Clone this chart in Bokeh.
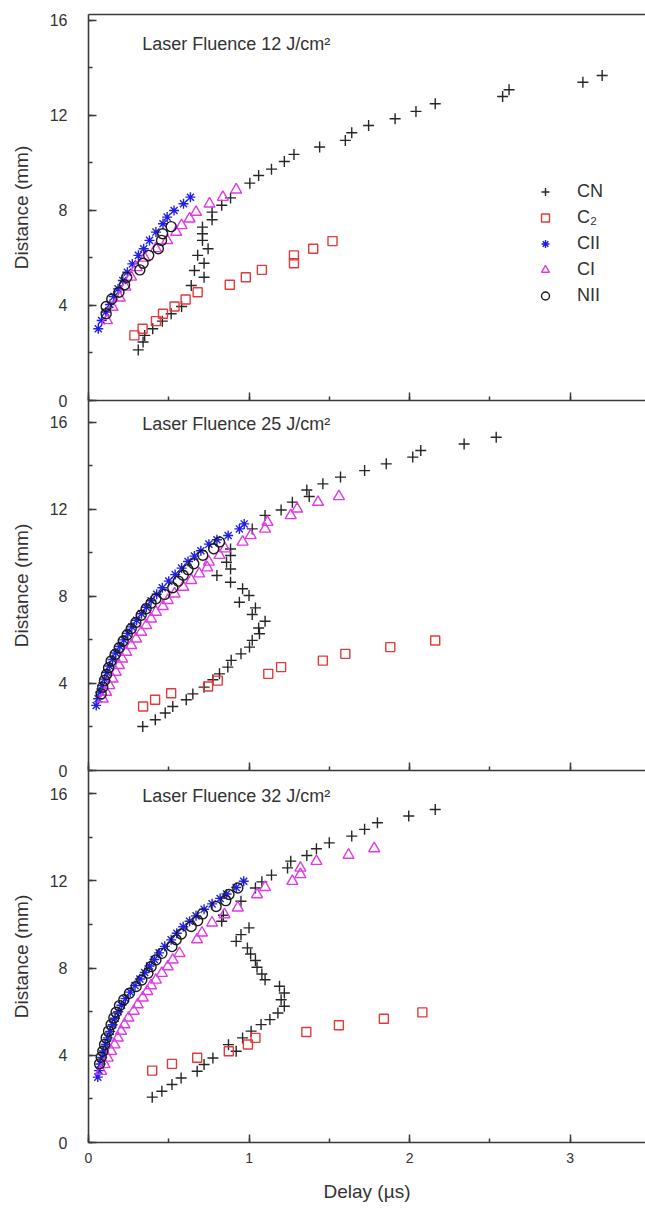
from bokeh.plotting import figure
from bokeh.models import (Range1d, SingleIntervalTicker, LinearAxis, Legend,
                          LegendItem, Label, ColumnDataSource)
from bokeh.layouts import column
from bokeh.embed import file_html
from bokeh.resources import INLINE

FONT = "Liberation Sans"
TXT = "#333333"
AX = "#3a3a3a"

# ---------------- data ----------------
series_names = ["CN", "C\u2082", "CII", "CI", "NII"]
panel_titles = ["Laser Fluence 12 J/cm\u00b2", "Laser Fluence 25 J/cm\u00b2",
                "Laser Fluence 32 J/cm\u00b2"]
x_label = "Delay (\u00b5s)"
y_label = "Distance (mm)"

# Panel 1: 12 J/cm2
p1_cn_delay = [3.20, 3.08, 2.62, 2.58, 2.16, 2.04, 1.91, 1.745, 1.64, 1.60, 1.44, 1.28,
               1.22, 1.14, 1.06, 1.005, 0.885, 0.83, 0.77, 0.77, 0.71, 0.71, 0.71, 0.745,
               0.68, 0.72, 0.66, 0.72, 0.64, 0.58, 0.515, 0.46, 0.40, 0.35, 0.34, 0.31]
p1_cn_dist = [13.68, 13.40, 13.08, 12.80, 12.49, 12.17, 11.86, 11.58, 11.27, 10.95, 10.67,
              10.36, 10.06, 9.74, 9.47, 9.15, 8.53, 8.22, 7.93, 7.61, 7.30, 7.02, 6.74,
              6.39, 6.11, 5.78, 5.47, 5.19, 4.84, 3.96, 3.65, 3.34, 3.02, 2.74, 2.46, 2.13]
p1_c2_delay = [0.286, 0.337, 0.42, 0.464, 0.536, 0.605, 0.68, 0.88, 0.98, 1.08, 1.28, 1.28,
               1.40, 1.52]
p1_c2_dist = [2.74, 3.02, 3.34, 3.65, 3.96, 4.25, 4.56, 4.87, 5.19, 5.50, 5.78, 6.11, 6.39,
              6.71]
p1_cii_delay = [0.061, 0.082, 0.107, 0.133, 0.158, 0.184, 0.214, 0.242, 0.273, 0.311,
                0.344, 0.38, 0.42, 0.464, 0.49, 0.533, 0.592, 0.635]
p1_cii_dist = [3.02, 3.37, 3.72, 4.04, 4.38, 4.70, 5.05, 5.40, 5.75, 6.11, 6.39, 6.74,
               7.09, 7.44, 7.72, 8.00, 8.28, 8.56]
p1_ci_delay = [0.115, 0.15, 0.195, 0.23, 0.265, 0.30, 0.35, 0.42, 0.49, 0.546, 0.58, 0.63,
               0.67, 0.754, 0.837, 0.92]
p1_ci_dist = [3.37, 3.93, 4.32, 4.78, 5.20, 5.60, 6.00, 6.40, 6.74, 7.09, 7.37, 7.65, 7.93,
              8.28, 8.56, 8.87]
p1_nii_delay = [0.11, 0.11, 0.145, 0.19, 0.225, 0.238, 0.32, 0.34, 0.375, 0.435, 0.455,
                0.462, 0.515]
p1_nii_dist = [3.65, 3.96, 4.27, 4.56, 4.87, 5.19, 5.50, 5.78, 6.11, 6.39, 6.74, 7.02, 7.32]

# Panel 2: 25 J/cm2
p2_cn_delay = [2.54, 2.34, 2.07, 2.02, 1.855, 1.72, 1.57, 1.46, 1.36, 1.375, 1.27, 1.20,
               1.10, 1.02, 0.885, 0.885, 0.86, 0.885, 0.80, 0.885, 0.96, 1.00, 0.94, 1.04,
               1.02, 1.10, 1.06, 1.065, 1.02, 1.003, 0.95, 0.889, 0.868, 0.816, 0.775, 0.72,
               0.65, 0.609, 0.525, 0.478, 0.416, 0.338]
p2_cn_dist = [15.31, 15.00, 14.70, 14.40, 14.09, 13.78, 13.48, 13.17, 12.89, 12.59, 12.33,
              11.97, 11.72, 11.10, 10.18, 9.88, 9.57, 9.26, 8.96, 8.65, 8.35, 8.04, 7.73,
              7.47, 7.17, 6.86, 6.55, 6.28, 5.98, 5.67, 5.36, 5.06, 4.75, 4.44, 4.17, 3.83,
              3.52, 3.25, 2.94, 2.64, 2.33, 2.02]
p2_c2_delay = [0.34, 0.415, 0.515, 0.745, 0.805, 1.12, 1.20, 1.46, 1.60, 1.88, 2.16]
p2_c2_dist = [2.94, 3.25, 3.55, 3.86, 4.13, 4.44, 4.75, 5.05, 5.36, 5.67, 5.97]
p2_cii_delay = [0.048, 0.06, 0.072, 0.085, 0.10, 0.115, 0.13, 0.15, 0.17, 0.195, 0.22,
                0.245, 0.27, 0.30, 0.33, 0.36, 0.39, 0.425, 0.46, 0.50, 0.54, 0.58, 0.62,
                0.66, 0.70, 0.75, 0.80, 0.87, 0.94, 0.97]
p2_cii_dist = [2.99, 3.30, 3.60, 3.90, 4.20, 4.50, 4.80, 5.10, 5.40, 5.70, 6.00, 6.30,
               6.60, 6.90, 7.20, 7.50, 7.80, 8.10, 8.40, 8.70, 9.00, 9.30, 9.60, 9.85,
               10.10, 10.40, 10.60, 10.80, 11.10, 11.33]
p2_ci_delay = [0.089, 0.11, 0.13, 0.15, 0.17, 0.19, 0.21, 0.235, 0.266, 0.297, 0.328, 0.36,
               0.39, 0.42, 0.463, 0.494, 0.536, 0.59, 0.64, 0.69, 0.74, 0.75, 0.816, 0.85,
               0.96, 1.01, 1.10, 1.115, 1.26, 1.30, 1.43, 1.56]
p2_ci_dist = [3.29, 3.60, 3.91, 4.21, 4.52, 4.83, 5.13, 5.44, 5.75, 6.05, 6.36, 6.67, 6.97,
              7.28, 7.54, 7.82, 8.12, 8.43, 8.74, 9.04, 9.32, 9.58, 9.89, 10.19, 10.50,
              10.80, 11.10, 11.41, 11.72, 12.02, 12.33, 12.59]
p2_nii_delay = [0.079, 0.089, 0.10, 0.112, 0.125, 0.141, 0.166, 0.191, 0.216, 0.241, 0.266,
                0.295, 0.328, 0.359, 0.39, 0.42, 0.474, 0.525, 0.56, 0.59, 0.62, 0.656,
                0.712, 0.78, 0.816]
p2_nii_dist = [3.52, 3.83, 4.14, 4.41, 4.72, 5.03, 5.33, 5.64, 5.95, 6.24, 6.51, 6.80,
               7.13, 7.43, 7.69, 7.89, 8.09, 8.40, 8.70, 8.97, 9.23, 9.50, 9.89, 10.19,
               10.50]

# Panel 3: 32 J/cm2
p3_cn_delay = [2.16, 1.995, 1.80, 1.72, 1.64, 1.50, 1.42, 1.36, 1.26, 1.24, 1.14, 1.08,
               1.04, 0.95, 0.84, 0.83, 1.00, 0.95, 0.92, 0.99, 1.01, 1.04, 1.05, 1.08, 1.10,
               1.19, 1.22, 1.20, 1.22, 1.18, 1.13, 1.075, 1.013, 0.96, 0.92, 0.872, 0.775,
               0.72, 0.677, 0.577, 0.52, 0.457, 0.397]
p3_cn_dist = [15.28, 14.98, 14.67, 14.37, 14.06, 13.75, 13.48, 13.17, 12.91, 12.60, 12.27,
              11.96, 11.68, 11.07, 10.43, 10.15, 9.85, 9.54, 9.23, 8.93, 8.65, 8.35, 8.04,
              7.73, 7.47, 7.17, 6.86, 6.55, 6.25, 5.94, 5.64, 5.41, 5.11, 4.80, 4.19, 4.49,
              3.88, 3.58, 3.27, 2.96, 2.66, 2.35, 2.08]
p3_c2_delay = [0.397, 0.52, 0.677, 0.874, 0.993, 1.04, 1.357, 1.56, 1.84, 2.08]
p3_c2_dist = [3.30, 3.61, 3.89, 4.19, 4.50, 4.80, 5.07, 5.38, 5.68, 5.97]
p3_cii_delay = [0.058, 0.065, 0.075, 0.085, 0.095, 0.108, 0.12, 0.135, 0.15, 0.165, 0.185,
                0.205, 0.23, 0.26, 0.29, 0.32, 0.35, 0.38, 0.41, 0.44, 0.475, 0.515, 0.55,
                0.59, 0.63, 0.67, 0.72, 0.77, 0.82, 0.86, 0.92, 0.967]
p3_cii_dist = [3.00, 3.30, 3.60, 3.90, 4.20, 4.50, 4.80, 5.10, 5.40, 5.70, 6.00, 6.30,
               6.60, 6.90, 7.20, 7.50, 7.80, 8.10, 8.40, 8.70, 9.00, 9.30, 9.60, 9.90,
               10.15, 10.40, 10.70, 10.95, 11.20, 11.40, 11.70, 11.99]
p3_ci_delay = [0.079, 0.10, 0.12, 0.141, 0.162, 0.183, 0.203, 0.224, 0.249, 0.282, 0.307,
               0.338, 0.366, 0.39, 0.42, 0.457, 0.494, 0.525, 0.567, 0.676, 0.707, 0.77,
               0.847, 0.93, 1.05, 1.10, 1.27, 1.32, 1.32, 1.42, 1.62, 1.78]
p3_ci_dist = [3.27, 3.58, 3.88, 4.19, 4.49, 4.80, 5.11, 5.41, 5.72, 6.03, 6.33, 6.64, 6.94,
              7.20, 7.46, 7.77, 8.07, 8.38, 8.68, 9.31, 9.62, 10.08, 10.46, 10.77, 11.38,
              11.71, 11.99, 12.30, 12.60, 12.91, 13.19, 13.49]
p3_nii_delay = [0.069, 0.079, 0.089, 0.10, 0.11, 0.125, 0.141, 0.158, 0.172, 0.193, 0.22,
                0.255, 0.297, 0.332, 0.37, 0.39, 0.42, 0.457, 0.52, 0.546, 0.578, 0.64,
                0.68, 0.71, 0.795, 0.855, 0.875, 0.93]
p3_nii_dist = [3.61, 3.91, 4.19, 4.50, 4.80, 5.11, 5.41, 5.72, 5.98, 6.28, 6.55, 6.85,
               7.16, 7.46, 7.77, 8.07, 8.38, 8.68, 8.99, 9.30, 9.57, 9.91, 10.18, 10.49,
               10.83, 11.10, 11.38, 11.68]

panels = [
    [(p1_cn_delay, p1_cn_dist), (p1_c2_delay, p1_c2_dist), (p1_cii_delay, p1_cii_dist),
     (p1_ci_delay, p1_ci_dist), (p1_nii_delay, p1_nii_dist)],
    [(p2_cn_delay, p2_cn_dist), (p2_c2_delay, p2_c2_dist), (p2_cii_delay, p2_cii_dist),
     (p2_ci_delay, p2_ci_dist), (p2_nii_delay, p2_nii_dist)],
    [(p3_cn_delay, p3_cn_dist), (p3_c2_delay, p3_c2_dist), (p3_cii_delay, p3_cii_dist),
     (p3_ci_delay, p3_ci_dist), (p3_nii_delay, p3_nii_dist)],
]

# ---------------- styles ----------------
marker_style = [
    dict(marker="cross", line_color="#262626", size=11),
    dict(marker="square", line_color="#e23a3a", size=9),
    dict(marker="asterisk", line_color="#1f1fe8", size=10),
    dict(marker="triangle", line_color="#e03ae6", size=11),
    dict(marker="circle", line_color="#1a1a1a", size=10),
]

OV = 24  # the next figure is pulled up over this bottom strip of the previous one
# (frame height, y end, border top, border bottom)
layout = [(386, 16.25, 14, OV), (370, 17.0, 0, OV), (372, 17.07, 0, 64)]
title_y = [15.0, 15.9, 15.9]

x_range = Range1d(0, 3.47)


def style_axis(ax):
    ax.axis_line_color = AX
    ax.axis_line_width = 1.6
    ax.major_tick_line_color = AX
    ax.major_tick_line_width = 1.5
    ax.minor_tick_line_color = AX
    ax.minor_tick_line_width = 1.5
    ax.major_tick_in = 8
    ax.major_tick_out = 0
    ax.minor_tick_in = 4
    ax.minor_tick_out = 0
    ax.major_label_text_font = FONT
    ax.major_label_text_color = TXT
    ax.axis_label_text_font = FONT
    ax.axis_label_text_font_style = "normal"
    ax.axis_label_text_color = TXT


figs = []
for i, data in enumerate(panels):
    fh, yend, bt, bb = layout[i]
    p = figure(width=645, height=fh + bt + bb, x_range=x_range,
               y_range=Range1d(0, yend), output_backend="svg",
               toolbar_location=None, min_border_left=88, min_border_right=0,
               min_border_top=bt, min_border_bottom=bb)
    p.outline_line_color = None
    p.xgrid.visible = False
    p.ygrid.visible = False
    if i > 0:
        p.border_fill_color = None
        p.background_fill_color = None
        p.margin = (-OV, 0, 0, 0)
    else:
        p.background_fill_color = "white"
        p.margin = (0, 0, 0, 0)

    xa = p.xaxis[0]
    ya = p.yaxis[0]
    style_axis(xa)
    style_axis(ya)
    xa.ticker = SingleIntervalTicker(interval=1, num_minor_ticks=2)
    ya.ticker = SingleIntervalTicker(interval=4, num_minor_ticks=2)
    ya.major_label_text_font_size = "16px"
    ya.major_label_standoff = 21
    ya.axis_label = y_label
    ya.axis_label_text_font_size = "19px"
    ya.axis_label_standoff = 15
    xa.major_label_text_font_size = "14px"
    if i == 2:
        xa.major_label_standoff = 10
        xa.axis_label = x_label
        xa.axis_label_text_font_size = "19px"
        xa.axis_label_standoff = 15
    else:
        xa.major_label_text_color = None
        xa.major_label_standoff = 0
    if i == 0:
        top = LinearAxis(ticker=SingleIntervalTicker(interval=1, num_minor_ticks=2))
        style_axis(top)
        top.major_tick_in = 0
        top.minor_tick_in = 0
        top.major_label_text_color = None
        top.major_label_text_font_size = "10px"
        top.major_label_standoff = 0
        p.add_layout(top, "above")

    renderers = []
    for (dx, dy), st in zip(data, marker_style):
        src = ColumnDataSource(dict(x=dx, y=dy))
        r = p.scatter("x", "y", source=src, marker=st["marker"], size=st["size"],
                      line_color=st["line_color"], fill_color=None, line_width=1.4)
        renderers.append(r)

    p.add_layout(Label(x=0.335, y=title_y[i], text=panel_titles[i],
                       text_font=FONT, text_font_size="18px", text_color=TXT,
                       text_baseline="middle", text_align="left"))

    if i == 0:
        items = [LegendItem(label=n, renderers=[r]) for n, r in zip(series_names, renderers)]
        leg = Legend(items=items, location=(447, 92), padding=0, margin=0,
                     spacing=1, glyph_width=20, glyph_height=25, label_height=25,
                     label_standoff=22, label_text_font=FONT, label_text_font_size="18px",
                     label_text_color=TXT, border_line_color=None,
                     background_fill_alpha=0)
        p.add_layout(leg)
    figs.append(p)

page = column(*figs, spacing=0)
open("out.html", "w").write(file_html(page, INLINE))
